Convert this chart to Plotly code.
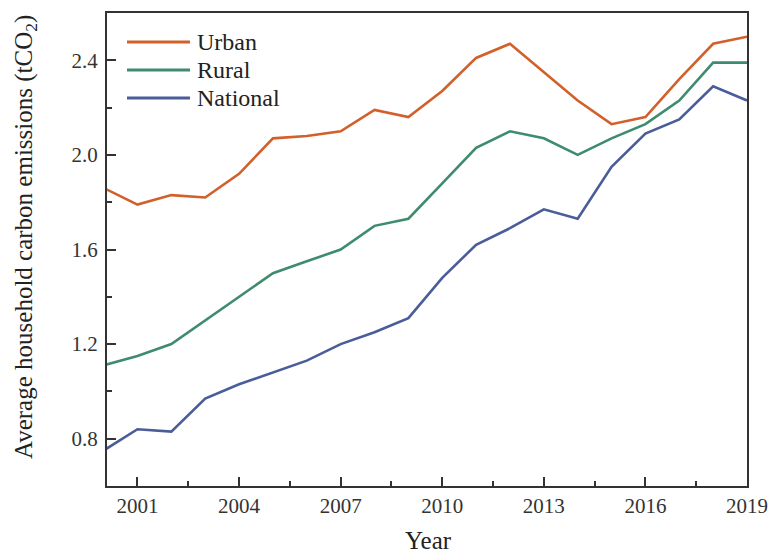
import plotly.graph_objects as go

# Average household carbon emissions per year (tCO2)
years = list(range(2000, 2020))
urban = [1.86, 1.79, 1.83, 1.82, 1.92, 2.07, 2.08, 2.10, 2.19, 2.16,
         2.27, 2.41, 2.47, 2.35, 2.23, 2.13, 2.16, 2.32, 2.47, 2.50]
rural = [1.11, 1.15, 1.20, 1.30, 1.40, 1.50, 1.55, 1.60, 1.70, 1.73,
         1.88, 2.03, 2.10, 2.07, 2.00, 2.07, 2.13, 2.23, 2.39, 2.39]
national = [0.75, 0.84, 0.83, 0.97, 1.03, 1.08, 1.13, 1.20, 1.25, 1.31,
            1.48, 1.62, 1.69, 1.77, 1.73, 1.95, 2.09, 2.15, 2.29, 2.23]

series_names = ["Urban", "Rural", "National"]
series_values = [urban, rural, national]
series_colors = ["#D2602B", "#3E8C6D", "#4A5D98"]

x_ticks = [2001, 2004, 2007, 2010, 2013, 2016, 2019]
y_ticks = [0.8, 1.2, 1.6, 2.0, 2.4]

FONT = "Liberation Serif, Times New Roman, serif"
AXIS_COLOR = "#333333"
TEXT_COLOR = "#222222"

W, H = 771, 556
M = dict(l=107, r=24, t=13, b=70)
PW = W - M["l"] - M["r"]
PH = H - M["t"] - M["b"]


def px_x(px):
    return (px - M["l"]) / PW


def px_y(py):
    return (H - M["b"] - py) / PH


fig = go.Figure()
for name, vals, color in zip(series_names, series_values, series_colors):
    fig.add_trace(go.Scatter(
        x=years, y=vals, mode="lines", name=name,
        line=dict(color=color, width=2.6), showlegend=False,
    ))

# Legend in the upper-left corner: a long colour sample followed by the label
leg_x0, leg_x1, leg_text_x = 127, 190, 195
leg_rows = [42, 70, 98]
for name, color, row in zip(series_names, series_colors, leg_rows):
    fig.add_shape(type="line", xref="paper", yref="paper",
                  x0=px_x(leg_x0), x1=px_x(leg_x1),
                  y0=px_y(row), y1=px_y(row), line=dict(color=color, width=3))
    fig.add_annotation(xref="paper", yref="paper",
                       x=px_x(leg_text_x), y=px_y(row),
                       xanchor="left", yanchor="middle", showarrow=False,
                       text=name, font=dict(family=FONT, size=24, color=TEXT_COLOR))

# Axis titles
fig.add_annotation(
    xref="paper", yref="paper", x=px_x(25), y=px_y(237),
    xanchor="center", yanchor="middle", showarrow=False, textangle=-90,
    text="Average household carbon emissions (tCO<sub>2</sub>)",
    font=dict(family=FONT, size=25, color=TEXT_COLOR),
)
fig.add_annotation(
    xref="paper", yref="paper", x=px_x(428), y=px_y(540),
    xanchor="center", yanchor="middle", showarrow=False,
    text="Year", font=dict(family=FONT, size=25, color=TEXT_COLOR),
)

axis_common = dict(
    showline=True, linecolor=AXIS_COLOR, linewidth=2, mirror=True,
    ticks="inside", ticklen=9, tickwidth=2, tickcolor=AXIS_COLOR,
    showgrid=False, zeroline=False, automargin=False,
    tickfont=dict(family=FONT, size=21, color="#333333"),
)

fig.update_xaxes(
    **axis_common,
    range=[2000.1, 2019],
    tickmode="array", tickvals=x_ticks, ticktext=[str(t) for t in x_ticks],
    ticklabelstandoff=0,
    minor=dict(ticks="inside", ticklen=5, tickwidth=2, tickcolor=AXIS_COLOR,
               tick0=2002.5, dtick=3),
)
fig.update_yaxes(
    **axis_common,
    range=[0.6, 2.6],
    tickmode="array", tickvals=y_ticks, ticktext=[f"{t:.1f}" for t in y_ticks],
    ticklabelstandoff=3,
    minor=dict(ticks="inside", ticklen=5, tickwidth=2, tickcolor=AXIS_COLOR,
               tick0=1.0, dtick=0.4),
)

fig.update_layout(
    width=W, height=H,
    margin=M,
    paper_bgcolor="white", plot_bgcolor="white",
)

fig.write_html("out.html")
